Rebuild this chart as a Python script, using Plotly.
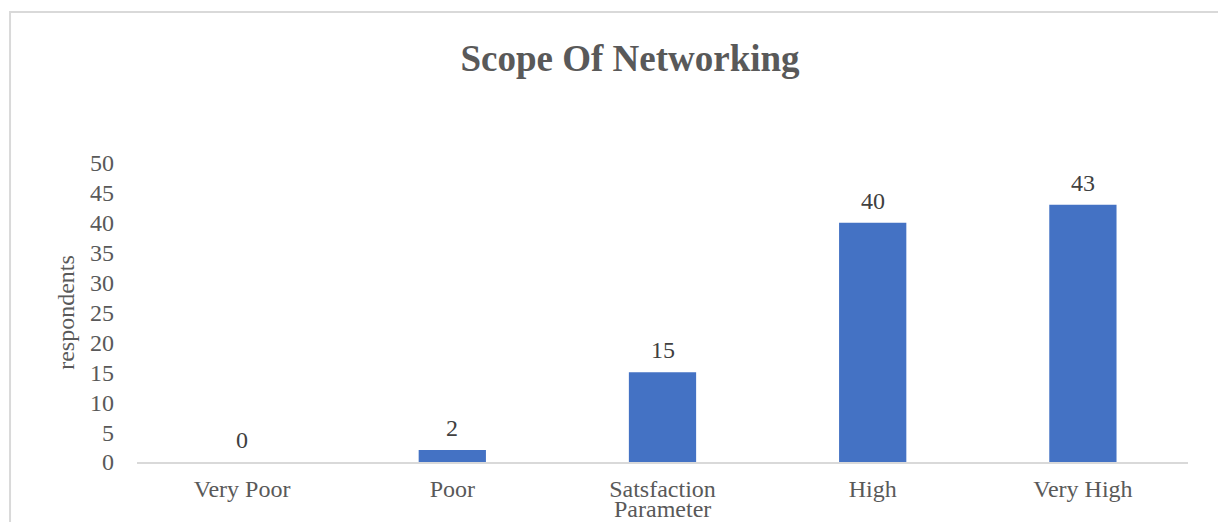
import plotly.graph_objects as go

# Survey responses on the scope of networking
categories = ["Very Poor", "Poor", "Satsfaction", "High", "Very High"]
respondents = [0, 2, 15, 40, 43]
y_ticks = [0, 5, 10, 15, 20, 25, 30, 35, 40, 45, 50]
x_title = "Parameter"

FONT = "Liberation Serif, Times New Roman, serif"
BAR = "#4472C4"
GREY = "#595959"
SIZE = 24

fig = go.Figure(
    go.Bar(
        x=categories,
        y=respondents,
        marker=dict(color=BAR, line=dict(width=0)),
        hoverinfo="x+y",
    )
)

# value labels above each bar
for cat, val in zip(categories, respondents):
    fig.add_annotation(
        x=cat, y=val, text=str(val), showarrow=False,
        yanchor="middle", yshift=22,
        font=dict(family=FONT, size=SIZE, color="#404040"),
    )

# axis title sitting right under the middle category label
fig.add_annotation(
    x=0.5, xref="paper", y=-47 / 299, yref="paper",
    text=x_title, showarrow=False, yanchor="middle",
    font=dict(family=FONT, size=SIZE, color=GREY),
)

# chart-area frame (partly outside the visible page)
fig.add_shape(
    type="rect", xref="paper", yref="paper",
    x0=-0.1208, x1=1.06, y0=-0.25, y1=1.505,
    line=dict(color="#d9d9d9", width=2), fillcolor="rgba(0,0,0,0)",
    layer="below",
)

fig.update_layout(
    width=1218, height=522,
    margin=dict(l=137, r=30, t=163, b=60),
    paper_bgcolor="white", plot_bgcolor="white",
    bargap=0.68,
    showlegend=False,
    font=dict(family=FONT, size=SIZE, color=GREY),
    title=dict(
        text="<b>Scope Of Networking</b>",
        x=630 / 1218, xref="container", xanchor="center",
        y=1 - 58 / 522, yref="container", yanchor="middle",
        font=dict(family=FONT, size=37, color=GREY),
    ),
    xaxis=dict(
        showline=True, linecolor="#d9d9d9", linewidth=1.5,
        ticks="", showgrid=False, zeroline=False, automargin=False,
        ticklabelstandoff=4,
        tickfont=dict(family=FONT, size=SIZE, color=GREY),
    ),
    yaxis=dict(
        range=[0, 50], tickvals=y_ticks, showgrid=False, zeroline=False,
        showline=False, ticks="", ticklabelstandoff=22, automargin=False,
        tickfont=dict(family=FONT, size=SIZE, color=GREY),
        title=dict(text="respondents", standoff=8,
                   font=dict(family=FONT, size=SIZE, color=GREY)),
    ),
)

fig.write_html("out.html")
